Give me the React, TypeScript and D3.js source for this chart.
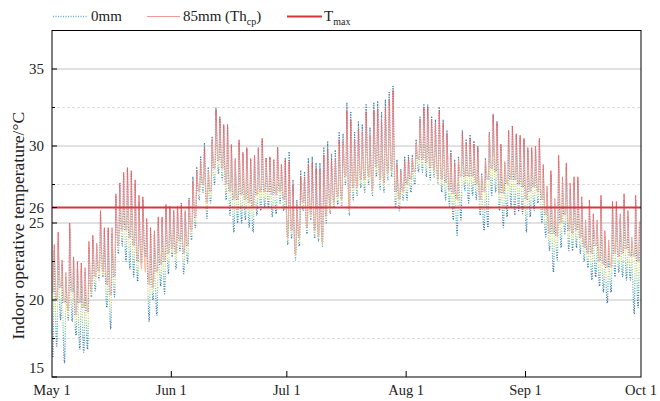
import React from 'react';
import * as d3 from 'd3';

// ---- data (daily peaks / troughs, May 1 – Sep 30) ----
const monthLabels = ['May 1', 'Jun 1', 'Jul 1', 'Aug 1', 'Sep 1', 'Oct 1'];
const monthStarts = [
  Date.UTC(2021, 4, 1), Date.UTC(2021, 5, 1), Date.UTC(2021, 6, 1),
  Date.UTC(2021, 7, 1), Date.UTC(2021, 8, 1), Date.UTC(2021, 9, 1),
];
const yMajorTicks = [15, 20, 25, 26, 30, 35];
const yGridMajor = [20, 25, 30, 35];
const yGridMinor = [17.5, 22.5, 27.5, 32.5];
const tMax = 26;

// 85mm (Th_cp) daily maximum
const peak85 = [
  23.6, 24.4, 22.6, 21.8, 25.0, 22.8, 22.5, 22.4, 22.1, 23.8, 24.2, 23.7, 25.8, 24.7, 24.7, 24.7, 26.9, 27.6, 28.3, 28.6, 28.4, 27.8, 26.8, 26.7, 25.3, 24.7, 24.5, 25.4, 25.4, 26.2, 26.1,
  25.8, 26.1, 26.2, 25.8, 26.5, 27.7, 28.4, 29.0, 29.9, 28.4, 30.4, 32.3, 31.8, 31.4, 31.4, 30.1, 29.2, 30.4, 29.6, 29.9, 29.2, 29.4, 29.9, 30.5, 29.2, 29.3, 29.1, 29.9, 28.8, 29.1,
  29.0, 27.5, 26.2, 28.0, 28.0, 28.8, 28.9, 28.5, 28.5, 29.4, 29.8, 29.0, 29.2, 30.4, 30.3, 32.3, 31.7, 30.4, 31.1, 30.9, 32.2, 30.7, 32.3, 32.4, 31.7, 32.5, 33.0, 33.6, 28.8, 28.3, 29.0,
  29.2, 29.2, 30.2, 31.7, 32.5, 32.5, 31.7, 31.5, 32.3, 31.5, 30.8, 29.5, 28.9, 29.1, 30.8, 30.2, 30.5, 30.1, 29.9, 28.1, 29.1, 30.8, 32.0, 31.5, 30.1, 29.0, 31.0, 31.3, 30.8, 30.7, 30.5,
  29.9, 29.9, 30.0, 30.5, 28.8, 27.4, 28.4, 26.6, 29.4, 28.0, 28.9, 27.6, 28.0, 28.0, 26.7, 25.2, 26.5, 25.6, 25.2, 26.8, 24.5, 23.9, 26.4, 26.4, 25.6, 26.9, 25.8, 24.1, 26.8, 25.1,
];
// 85mm (Th_cp) daily minimum
const trough85 = [
  20.5, 20.0, 20.8, 19.8, 19.3, 20.5, 19.0, 19.8, 19.5, 19.2, 20.5, 21.5, 21.8, 21.8, 21.0, 20.3, 21.5, 23.5, 24.5, 24.5, 24.0, 23.5, 22.5, 22.0, 21.8, 21.0, 20.8, 21.8, 22.3, 22.5, 23.0,
  23.3, 23.0, 23.8, 23.0, 23.5, 24.5, 25.3, 27.0, 27.5, 26.3, 27.0, 28.5, 29.0, 28.5, 27.5, 27.0, 26.5, 26.5, 26.8, 26.5, 26.3, 26.0, 26.8, 27.0, 27.0, 27.0, 26.8, 26.8, 27.0, 26.5,
  24.0, 24.5, 22.9, 24.0, 26.3, 24.7, 25.5, 24.5, 24.1, 23.7, 25.4, 26.0, 26.3, 26.7, 26.5, 28.0, 25.8, 27.3, 27.3, 27.8, 27.8, 28.0, 27.1, 28.6, 27.8, 27.6, 28.2, 28.4, 27.0, 26.5, 27.0,
  27.5, 27.8, 28.3, 29.1, 29.1, 28.9, 28.6, 28.4, 27.8, 27.8, 27.6, 27.1, 26.9, 26.5, 28.0, 28.0, 28.0, 28.0, 27.5, 26.5, 27.0, 27.8, 28.5, 28.3, 26.9, 26.9, 27.5, 27.8, 27.8, 27.5, 27.3,
  26.5, 27.0, 27.3, 27.0, 26.5, 25.5, 24.3, 24.3, 24.1, 25.0, 25.5, 24.5, 24.3, 24.5, 24.0, 23.4, 23.0, 23.0, 23.5, 22.5, 22.3, 22.1, 22.1, 23.0, 22.8, 23.0, 23.3, 22.8, 22.8, 22.5,
];
// 0mm daily maximum
const peak0 = [
  23.2, 23.8, 22.3, 21.5, 24.6, 22.5, 22.0, 22.0, 21.8, 23.4, 23.9, 23.6, 25.5, 24.5, 24.5, 24.3, 26.7, 27.6, 28.2, 28.5, 28.2, 27.5, 26.4, 26.5, 25.0, 24.3, 24.2, 25.1, 25.3, 26.0, 26.0,
  25.8, 26.0, 26.3, 25.7, 26.6, 28.0, 28.6, 29.3, 30.2, 28.6, 30.6, 32.5, 31.9, 31.3, 31.2, 30.0, 29.0, 30.2, 29.5, 29.8, 29.1, 29.3, 29.8, 30.3, 29.2, 29.2, 29.1, 29.9, 28.8, 29.2,
  29.6, 27.8, 26.5, 28.4, 28.3, 29.2, 29.3, 28.9, 28.9, 29.9, 30.3, 29.5, 29.7, 30.9, 30.8, 32.8, 32.2, 30.9, 31.6, 31.4, 32.7, 31.2, 32.8, 32.9, 32.2, 33.0, 33.5, 33.9, 29.1, 28.5, 29.3,
  29.4, 29.4, 30.4, 31.9, 32.7, 32.7, 31.9, 31.7, 32.5, 31.7, 31.0, 29.7, 29.1, 29.3, 31.0, 30.4, 30.7, 30.3, 30.0, 28.2, 29.2, 30.9, 32.1, 31.6, 30.1, 28.9, 31.0, 31.3, 30.7, 30.5, 30.4,
  29.7, 29.7, 29.8, 30.3, 28.5, 27.0, 28.1, 26.2, 29.0, 27.6, 28.6, 27.2, 27.6, 27.7, 26.3, 24.8, 26.1, 25.2, 24.9, 26.5, 24.1, 23.5, 26.0, 26.1, 25.3, 26.5, 25.4, 23.8, 26.5, 24.8,
];
// 0mm daily minimum
const trough0 = [
  16.3, 17.0, 18.7, 15.9, 18.7, 18.6, 17.7, 16.8, 16.6, 16.8, 20.2, 20.6, 21.3, 21.5, 19.5, 18.1, 20.2, 23.0, 23.5, 22.5, 22.0, 21.5, 21.2, 22.4, 22.8, 18.6, 20.0, 19.0, 20.9, 20.4, 21.7,
  22.8, 22.0, 23.2, 21.7, 22.4, 23.9, 24.7, 26.5, 27.0, 25.3, 26.3, 27.5, 28.2, 27.8, 26.5, 25.5, 24.4, 25.0, 25.0, 25.2, 24.7, 24.4, 25.5, 25.8, 26.0, 26.0, 25.4, 25.6, 26.3, 25.8,
  23.6, 24.0, 22.6, 23.5, 25.8, 24.3, 25.2, 24.0, 23.8, 23.5, 25.0, 25.6, 26.0, 26.2, 26.0, 27.5, 25.5, 26.5, 26.8, 27.3, 27.0, 27.5, 26.8, 28.0, 27.2, 27.0, 27.8, 28.0, 26.0, 25.8, 26.5,
  26.5, 27.0, 27.5, 28.3, 28.3, 28.0, 27.8, 28.0, 27.6, 27.0, 26.5, 26.1, 25.2, 24.2, 25.2, 27.1, 26.3, 26.8, 26.5, 25.5, 24.5, 24.7, 26.8, 27.0, 25.8, 24.7, 25.4, 26.0, 25.5, 25.8, 25.6,
  24.4, 25.4, 25.8, 26.3, 25.0, 24.1, 23.2, 21.8, 22.6, 23.4, 24.3, 23.2, 23.2, 23.4, 23.0, 22.5, 22.1, 21.3, 21.5, 20.9, 20.5, 19.8, 20.5, 21.5, 21.8, 21.5, 21.3, 21.3, 19.1, 19.5,
];

// ---- layout ----
const W = 660;
const H = 401;
const L = 52;
const R = 641;
const TOP = 30.5;
const BOT = 377;
const FONT = '"Liberation Serif", "Times New Roman", serif';
const DAY = 86400000;
const START = monthStarts[0];

type Pt = [Date, number];
const at = (d: number, f: number) => new Date(START + (d + f) * DAY);

function segments(hi: number[], lo: number[]): Pt[][] {
  return hi.map((_, d) =>
    d === 0
      ? [[at(0, 0.25), lo[0]], [at(0, 0.6), hi[0]]]
      : [[at(d - 1, 0.6), hi[d - 1]], [at(d, 0.25), lo[d]], [at(d, 0.6), hi[d]]]
  );
}

export default function App() {
  const x = d3.scaleUtc().domain([new Date(monthStarts[0]), new Date(monthStarts[5])]).range([L, R]);
  const y = d3.scaleLinear().domain([15, 37.5]).range([BOT, TOP]);
  const line = d3
    .line<Pt>()
    .x((p) => x(p[0]))
    .y((p) => y(p[1]))
    .curve(d3.curveMonotoneX);

  const seg85 = segments(peak85, trough85);
  const seg0 = segments(peak0, trough0);

  const grads0 = peak0.map((_, d) => {
    const top = d === 0 ? peak0[0] : Math.max(peak0[d - 1], peak0[d]);
    const span = top - trough0[d];
    let f = span > 0 ? (top - trough85[d]) / span : 1;
    f = Math.max(0, Math.min(1, f));
    const tail = 1 - f;
    return { f, tail };
  });

  return (
    <svg
      width={W}
      height={H}
      viewBox={`0 0 ${W} ${H}`}
      style={{ position: 'absolute', left: 0, top: 0, background: '#fff' }}
      fontFamily={FONT}
    >
      <defs>
        <linearGradient id="g85" x1="0" y1="0" x2="0" y2="1">
          <stop offset="0" stopColor="#ee5a5c" />
          <stop offset="0.5" stopColor="#f39a96" />
          <stop offset="1" stopColor="#f6b88e" />
        </linearGradient>
        {grads0.map((g, d) => (
          <linearGradient key={d} id={`g0-${d}`} x1="0" y1="0" x2="0" y2="1">
            <stop offset="0" stopColor="#3f80ad" />
            <stop offset={g.f} stopColor="#4a8ab0" />
            <stop offset={Math.min(1, g.f + 0.001)} stopColor="#e4df72" />
            <stop offset={Math.min(1, g.f + 0.3 * g.tail)} stopColor="#9acb86" />
            <stop offset={Math.min(1, g.f + 0.6 * g.tail)} stopColor="#46a1b4" />
            <stop offset="1" stopColor="#2c66a6" />
          </linearGradient>
        ))}
        <clipPath id="plot">
          <rect x={L} y={TOP} width={R - L} height={BOT - TOP} />
        </clipPath>
      </defs>

      {/* grid */}
      {yGridMinor.map((v) => (
        <line key={`mn${v}`} x1={L} x2={R} y1={y(v)} y2={y(v)} stroke="#d6d6d6" strokeWidth={0.8} strokeDasharray="3 2" />
      ))}
      {yGridMajor.map((v) => (
        <line key={`mj${v}`} x1={L} x2={R} y1={y(v)} y2={y(v)} stroke="#c4c4c4" strokeWidth={1} />
      ))}

      {/* series */}
      <g clipPath="url(#plot)" fill="none">
        {seg0.map((s, d) => (
          <path key={`a${d}`} d={line(s) || ''} stroke={`url(#g0-${d})`} strokeWidth={1.2} strokeDasharray="1.1 1.4" />
        ))}
        {seg85.map((s, d) => (
          <path key={`b${d}`} d={line(s) || ''} stroke="url(#g85)" strokeWidth={0.9} />
        ))}
        <line x1={L} x2={R} y1={y(tMax)} y2={y(tMax)} stroke="#d8383c" strokeWidth={2} />
      </g>

      {/* frame */}
      <rect x={L} y={TOP} width={R - L} height={BOT - TOP} fill="none" stroke="#000" strokeWidth={1} />

      {/* y axis */}
      {yMajorTicks.map((v) => (
        <g key={`yt${v}`}>
          <line x1={L} x2={L + 5} y1={y(v)} y2={y(v)} stroke="#000" />
          <text x={44} y={v === 15 ? y(v) - 4 : y(v) + 5} textAnchor="end" fontSize={15} fill="#222">
            {v}
          </text>
        </g>
      ))}
      {yGridMinor.map((v) => (
        <line key={`ym${v}`} x1={L} x2={L + 3} y1={y(v)} y2={y(v)} stroke="#000" />
      ))}
      <text
        transform={`translate(24, ${(TOP + BOT) / 2 + 22}) rotate(-90)`}
        textAnchor="middle"
        fontSize={17.5}
        fill="#222"
      >
        Indoor operative temperature/°C
      </text>

      {/* x axis */}
      {monthStarts.map((ms, i) => (
        <g key={`xt${i}`}>
          {i > 0 && i < 5 && (
            <line x1={x(new Date(ms))} x2={x(new Date(ms))} y1={BOT} y2={BOT - 6} stroke="#000" />
          )}
          <text x={x(new Date(ms))} y={395} textAnchor="middle" fontSize={14.5} fill="#222">
            {monthLabels[i]}
          </text>
        </g>
      ))}

      {/* legend */}
      <line x1={53} x2={88} y1={16.5} y2={16.5} stroke="#6db0d6" strokeWidth={1.3} strokeDasharray="1.1 1.4" />
      <text x={91} y={21} fontSize={15} fill="#222">0mm</text>
      <line x1={147} x2={180} y1={16.5} y2={16.5} stroke="#f29a96" strokeWidth={1} />
      <text x={183} y={21} fontSize={15} fill="#222">
        85mm (Th<tspan fontSize={10} dy={4}>cp</tspan>
        <tspan dy={-4}>)</tspan>
      </text>
      <line x1={287} x2={322} y1={16.5} y2={16.5} stroke="#d8383c" strokeWidth={2} />
      <text x={324} y={21} fontSize={15} fill="#222">
        T<tspan fontSize={10} dy={4}>max</tspan>
      </text>
    </svg>
  );
}
